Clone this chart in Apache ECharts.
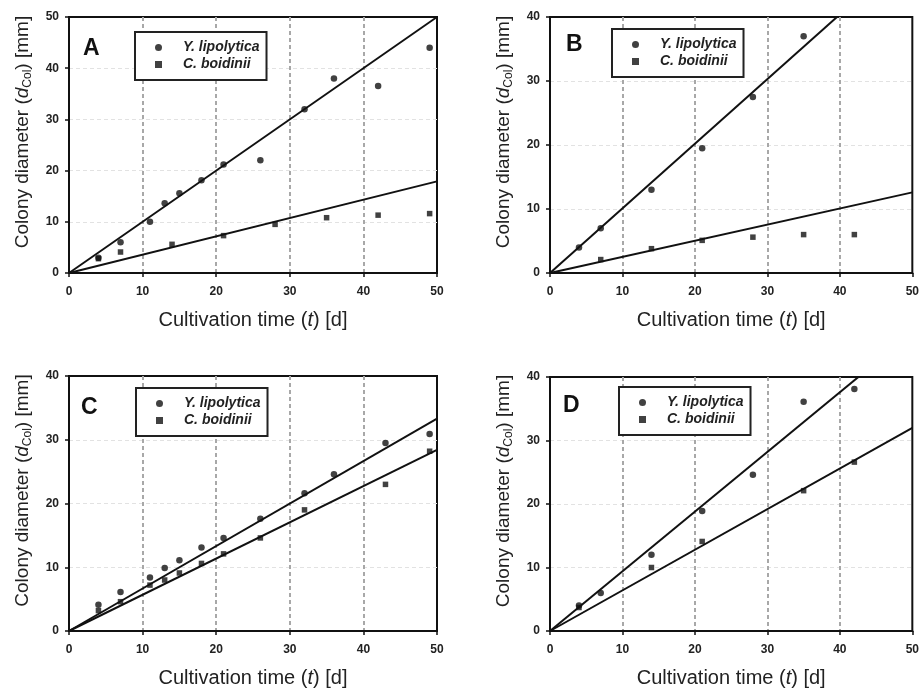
<!DOCTYPE html>
<html>
<head>
<meta charset="utf-8">
<script src="https://cdn.jsdelivr.net/npm/echarts@6/dist/echarts.min.js"></script>
<style>
html,body{margin:0;padding:0;background:#fff;}
#chart{width:922px;height:689px;}
</style>
</head>
<body>
<div id="chart"></div>
<script>
// ---------- data ----------
const panelLabels = ['A', 'B', 'C', 'D'];
const seriesNames = ['Y. lipolytica', 'C. boidinii'];
const xTickLabels = [0, 10, 20, 30, 40, 50];
const yTickLabelsA = [0, 10, 20, 30, 40, 50];
const yTickLabelsBCD = [0, 10, 20, 30, 40];

// Panel A
const A_ylipo = [[4,3],[7,6],[11,10],[13,13.6],[15,15.6],[18,18.1],[21,21.2],[26,22],[32,32],[36,38],[42,36.5],[49,44]];
const A_cboid = [[4,2.8],[7,4.1],[14,5.6],[21,7.3],[28,9.5],[35,10.8],[42,11.3],[49,11.6]];
const A_fitY = [[0,0],[50,50]];
const A_fitC = [[0,0],[50,17.9]];
// Panel B
const B_ylipo = [[4,4],[7,7],[14,13],[21,19.5],[28,27.5],[35,37]];
const B_cboid = [[7,2.1],[14,3.8],[21,5.1],[28,5.6],[35,6],[42,6]];
const B_fitY = [[0,0],[50,50.5]];
const B_fitC = [[0,0],[50,12.6]];
// Panel C
const C_ylipo = [[4,4.1],[7,6.1],[11,8.4],[13,9.9],[15,11.1],[18,13.1],[21,14.6],[26,17.6],[32,21.6],[36,24.6],[43,29.5],[49,30.9]];
const C_cboid = [[4,3.2],[7,4.6],[11,7.2],[13,8],[15,9.1],[18,10.6],[21,12.1],[26,14.6],[32,19],[43,23],[49,28.2]];
const C_fitY = [[0,0],[50,33.3]];
const C_fitC = [[0,0],[50,28.4]];
// Panel D
const D_ylipo = [[4,4],[7,6],[14,12],[21,18.9],[28,24.6],[35,36.1],[42,38.1]];
const D_cboid = [[4,3.7],[14,10],[21,14.1],[35,22.1],[42,26.6]];
const D_fitY = [[0,0],[50,47]];
const D_fitC = [[0,0],[50,32]];

// ---------- layout / style ----------
const FONT = 'Arial, "Liberation Sans", Helvetica, sans-serif';
const TXT = '#222';
const grids = [
  {left: 69,  top: 17,  width: 368, height: 256},
  {left: 550, top: 17,  width: 365, height: 256},
  {left: 69,  top: 376, width: 368, height: 257},
  {left: 550, top: 377, width: 365, height: 256}
];
const letterPos = [
  {left: 83, top: 37}, {left: 566, top: 33}, {left: 81, top: 396}, {left: 563, top: 394}
];
const legendPos = [
  {left: 135, top: 32}, {left: 612, top: 29}, {left: 136, top: 388}, {left: 619, top: 387}
];
const panels = [
  {yTicks: yTickLabelsA,   Y: A_ylipo, C: A_cboid, fY: A_fitY, fC: A_fitC},
  {yTicks: yTickLabelsBCD, Y: B_ylipo, C: B_cboid, fY: B_fitY, fC: B_fitC},
  {yTicks: yTickLabelsBCD, Y: C_ylipo, C: C_cboid, fY: C_fitY, fC: C_fitC},
  {yTicks: yTickLabelsBCD, Y: D_ylipo, C: D_cboid, fY: D_fitY, fC: D_fitC}
];

const richX = {
  n: {fontSize: 20, fontFamily: FONT, color: TXT, lineHeight: 24},
  i: {fontSize: 20, fontFamily: FONT, color: TXT, fontStyle: 'italic', lineHeight: 24}
};
const richY = {
  n: {fontSize: 19, fontFamily: FONT, color: TXT, lineHeight: 23},
  i: {fontSize: 19, fontFamily: FONT, color: TXT, fontStyle: 'italic', lineHeight: 23},
  s: {fontSize: 12, fontFamily: FONT, color: TXT, lineHeight: 12, verticalAlign: 'bottom'}
};

const option = {
  backgroundColor: '#fff',
  animation: false,
  title: [], legend: [], grid: [], xAxis: [], yAxis: [], series: []
};

panels.forEach((p, k) => {
  option.grid.push(Object.assign({show: true, borderColor: '#111', borderWidth: 2, backgroundColor: '#fff'}, grids[k]));
  option.title.push({
    text: panelLabels[k], left: letterPos[k].left, top: letterPos[k].top, padding: 0,
    textStyle: {fontSize: 23, fontWeight: 'bold', fontFamily: FONT, color: '#111'}
  });
  option.legend.push({
    data: [{name: seriesNames[0], icon: 'circle'}, {name: seriesNames[1], icon: 'rect'}],
    orient: 'vertical', left: legendPos[k].left, top: legendPos[k].top,
    padding: [8, 7, 8, 20], itemGap: 2, itemWidth: 7, itemHeight: 7,
    borderColor: '#222', borderWidth: 2, backgroundColor: '#fff',
    selectedMode: false,
    textStyle: {fontSize: 14, fontWeight: 'bold', fontStyle: 'italic', fontFamily: FONT, color: TXT,
                padding: [0, 0, 0, 16], lineHeight: 15}
  });
  option.xAxis.push({
    type: 'value', gridIndex: k, min: xTickLabels[0], max: xTickLabels[xTickLabels.length - 1], interval: 10,
    name: '{n|Cultivation time (}{i|t}{n|) [d]}', nameLocation: 'middle', nameGap: 35,
    nameTextStyle: {rich: richX},
    axisLine: {show: true, onZero: false, lineStyle: {color: '#111', width: 2}},
    axisTick: {show: true, inside: false, length: 4, lineStyle: {color: '#111', width: 1.5}},
    axisLabel: {fontSize: 12, fontWeight: 'bold', fontFamily: FONT, color: TXT, margin: 13},
    splitLine: {show: true, showMinLine: false, showMaxLine: false,
                lineStyle: {color: '#a8a8a8', width: 2, type: [4, 3]}}
  });
  option.yAxis.push({
    type: 'value', gridIndex: k, min: p.yTicks[0], max: p.yTicks[p.yTicks.length - 1], interval: 10,
    name: '{n|Colony diameter (}{i|d}{s|Col}{n|) [mm]}', nameLocation: 'middle', nameGap: 35,
    nameTextStyle: {rich: richY, padding: [0, 0, 0, 26]},
    axisLine: {show: true, onZero: false, lineStyle: {color: '#111', width: 2}},
    axisTick: {show: true, inside: false, length: 4, lineStyle: {color: '#111', width: 1.5}},
    axisLabel: {fontSize: 12, fontWeight: 'bold', fontFamily: FONT, color: TXT, margin: 10},
    splitLine: {show: true, showMinLine: false, showMaxLine: false,
                lineStyle: {color: '#e2e2e2', width: 1, type: [4, 3]}}
  });
  option.series.push(
    {type: 'line', name: 'fitY' + k, xAxisIndex: k, yAxisIndex: k, data: p.fY, symbol: 'none',
     clip: true, lineStyle: {color: '#111', width: 2}, z: 3, silent: true},
    {type: 'line', name: 'fitC' + k, xAxisIndex: k, yAxisIndex: k, data: p.fC, symbol: 'none',
     clip: true, lineStyle: {color: '#111', width: 2}, z: 3, silent: true},
    {type: 'scatter', name: seriesNames[0], xAxisIndex: k, yAxisIndex: k, data: p.Y, symbol: 'circle',
     symbolSize: 6.5, itemStyle: {color: '#111'}, z: 4},
    {type: 'scatter', name: seriesNames[1], xAxisIndex: k, yAxisIndex: k, data: p.C, symbol: 'rect',
     symbolSize: 5.5, itemStyle: {color: '#111'}, z: 4}
  );
});

const chart = echarts.init(document.getElementById('chart'), null, {renderer: 'canvas'});
chart.setOption(option);
</script>
</body>
</html>
